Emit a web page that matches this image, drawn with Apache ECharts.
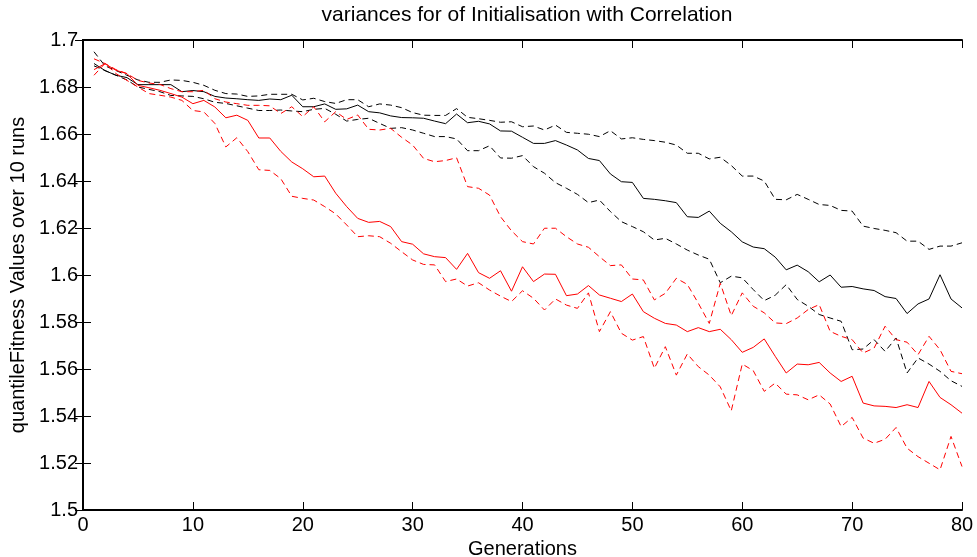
<!DOCTYPE html>
<html>
<head>
<meta charset="utf-8">
<script src="https://cdn.jsdelivr.net/npm/echarts@6/dist/echarts.min.js"></script>
<style>html,body{margin:0;padding:0;background:#fff}#c{width:977px;height:557px}</style>
</head>
<body>
<div id="c"></div>
<script>
const titleText = 'variances for of Initialisation with Correlation';
const xName = 'Generations';
const yName = 'quantileFitness Values over 10 runs';
const generations = [1,2,3,4,5,6,7,8,9,10,11,12,13,14,15,16,17,18,19,20,21,22,23,24,25,26,27,28,29,30,31,32,33,34,35,36,37,38,39,40,41,42,43,44,45,46,47,48,49,50,51,52,53,54,55,56,57,58,59,60,61,62,63,64,65,66,67,68,69,70,71,72,73,74,75,76,77,78,79,80];

const blackSolid = [1.690,1.687,1.685,1.684,1.681,1.681,1.681,1.681,1.678,1.6785,1.678,1.676,1.6753,1.675,1.6746,1.6743,1.6749,1.6746,1.6765,1.6716,1.6716,1.6728,1.6705,1.6707,1.6723,1.6695,1.669,1.6677,1.667,1.6669,1.6667,1.6655,1.6644,1.6685,1.6648,1.6654,1.6643,1.6613,1.6612,1.6586,1.656,1.656,1.6572,1.6553,1.6532,1.6496,1.6487,1.643,1.6397,1.6394,1.6326,1.6322,1.6316,1.6308,1.6248,1.6245,1.6272,1.622,1.6184,1.6141,1.6119,1.6112,1.6076,1.6022,1.6042,1.6014,1.5971,1.600,1.5948,1.5951,1.5941,1.5934,1.5908,1.590,1.5836,1.5877,1.5898,1.6001,1.5898,1.586];

const blackDashedUpper = [1.695,1.689,1.687,1.685,1.683,1.682,1.682,1.683,1.6828,1.682,1.6807,1.6786,1.6772,1.677,1.676,1.6762,1.6769,1.6769,1.6769,1.6745,1.6752,1.6738,1.673,1.6746,1.6746,1.6716,1.6728,1.6723,1.6712,1.6691,1.668,1.6679,1.6679,1.6708,1.6671,1.6665,1.6658,1.665,1.6652,1.6631,1.6634,1.6617,1.6638,1.6607,1.6603,1.6599,1.6589,1.6614,1.6579,1.6584,1.6577,1.6572,1.6565,1.6553,1.6518,1.6518,1.6494,1.6501,1.6466,1.6421,1.6421,1.640,1.6322,1.632,1.6343,1.6322,1.630,1.6296,1.6275,1.6272,1.6208,1.6198,1.619,1.618,1.6144,1.6144,1.6109,1.6123,1.6123,1.6137];

const blackDashedLower = [1.689,1.687,1.685,1.683,1.680,1.679,1.678,1.6764,1.6762,1.676,1.675,1.6735,1.673,1.672,1.671,1.670,1.670,1.6702,1.6698,1.6695,1.6705,1.6709,1.6684,1.6655,1.6662,1.6667,1.6645,1.6624,1.6627,1.6617,1.6603,1.6589,1.6589,1.6579,1.6529,1.6529,1.655,1.6498,1.6497,1.6508,1.6461,1.6433,1.6393,1.6369,1.6343,1.6308,1.6319,1.627,1.6227,1.6206,1.6184,1.6149,1.6156,1.6132,1.6106,1.6085,1.6067,1.5967,1.5995,1.5988,1.5938,1.5891,1.5914,1.5959,1.5896,1.5867,1.5832,1.5817,1.5803,1.5682,1.5685,1.5725,1.5675,1.5732,1.5583,1.5647,1.5621,1.559,1.555,1.5526];

const redSolid = [1.6874,1.6899,1.6871,1.6857,1.6807,1.6797,1.6786,1.6772,1.6757,1.6729,1.6743,1.6715,1.6669,1.668,1.6658,1.6583,1.6583,1.6526,1.6481,1.6452,1.6418,1.6421,1.6348,1.6291,1.6241,1.6224,1.6228,1.6206,1.6142,1.6131,1.609,1.6078,1.6074,1.6024,1.6092,1.601,1.5986,1.6018,1.5931,1.6035,1.5972,1.6004,1.6003,1.5912,1.5919,1.5955,1.5915,1.5901,1.5887,1.5919,1.5844,1.5816,1.5794,1.5787,1.5759,1.5776,1.5759,1.5769,1.5725,1.5671,1.5692,1.5728,1.5654,1.5583,1.5621,1.5618,1.5628,1.5583,1.5547,1.5569,1.5455,1.5443,1.5441,1.5436,1.5448,1.5436,1.5547,1.5479,1.5448,1.5412];

const redDashedUpper = [1.692,1.690,1.6874,1.6857,1.6828,1.6817,1.6811,1.6793,1.678,1.678,1.6786,1.675,1.6736,1.6729,1.6722,1.6722,1.672,1.6687,1.6716,1.6674,1.6716,1.6652,1.6695,1.6662,1.6681,1.662,1.6617,1.6624,1.6586,1.6553,1.6496,1.6482,1.6487,1.6499,1.6376,1.6369,1.634,1.6248,1.6188,1.6142,1.6132,1.6199,1.6199,1.6163,1.6132,1.6118,1.6078,1.604,1.6043,1.5983,1.5979,1.5894,1.5922,1.5986,1.596,1.588,1.5794,1.5965,1.5827,1.5924,1.5867,1.5839,1.5796,1.5793,1.5817,1.5853,1.5874,1.576,1.5739,1.5725,1.5668,1.5689,1.5782,1.5725,1.5714,1.5661,1.5739,1.5682,1.559,1.558];

const redDashedLower = [1.685,1.690,1.6857,1.6828,1.680,1.6772,1.6765,1.6757,1.6743,1.670,1.6694,1.6645,1.6545,1.6584,1.6525,1.6448,1.6445,1.641,1.6335,1.6326,1.6319,1.6291,1.626,1.6213,1.6163,1.6167,1.6163,1.6135,1.6099,1.6064,1.6045,1.6043,1.5972,1.5983,1.5953,1.5967,1.5936,1.591,1.5887,1.5933,1.5901,1.5851,1.5898,1.5872,1.5858,1.5924,1.5759,1.5844,1.5752,1.5723,1.5738,1.5603,1.5695,1.5574,1.5664,1.561,1.5574,1.5524,1.5422,1.5621,1.5593,1.5505,1.554,1.5493,1.549,1.5469,1.549,1.5451,1.5355,1.5394,1.5306,1.5284,1.5301,1.5351,1.5263,1.5227,1.5199,1.5171,1.5313,1.5185];

const FONT = '"Liberation Sans", Arial, sans-serif';
function pairs(vals){ return generations.map((g,i)=>[g, vals[i]]); }
function line(vals, color, dashed){
  return {
    type:'line', data: pairs(vals), showSymbol:false, symbol:'none', animation:false,
    lineStyle:{color:color, width:1, type: dashed ? [6,4] : 'solid'},
    silent:true
  };
}
const axisLine = {show:true, lineStyle:{color:'#000', width:2}};
const tick = {show:true, inside:true, length:8, lineStyle:{color:'#000', width:1}};

const chart = echarts.init(document.getElementById('c'), null, {renderer:'canvas'});
chart.setOption({
  backgroundColor:'#fff',
  animation:false,
  title:{text:titleText, left:522, top:0, textAlign:'center',
    textStyle:{fontFamily:FONT, fontSize:21, fontWeight:'normal', color:'#000'}},
  grid:{left:83, right:15, top:40, bottom:47, containLabel:false, outerBoundsMode:'none'},
  xAxis:[
    {type:'value', min:0, max:80, interval:10, position:'bottom',
     axisLine:axisLine, axisTick:tick, splitLine:{show:false},
     axisLabel:{color:'#000', fontFamily:FONT, fontSize:20, margin:5},
     name:xName, nameLocation:'middle', nameGap:24,
     nameTextStyle:{color:'#000', fontFamily:FONT, fontSize:20}},
    {type:'value', min:0, max:80, interval:10, position:'top',
     axisLine:axisLine, axisTick:tick, splitLine:{show:false}, axisLabel:{show:false}}
  ],
  yAxis:[
    {type:'value', min:1.5, max:1.7, interval:0.02, position:'left',
     axisLine:axisLine, axisTick:tick, splitLine:{show:false},
     axisLabel:{color:'#000', fontFamily:FONT, fontSize:20, margin:5},
     name:yName, nameLocation:'middle', nameGap:50, nameRotate:90,
     nameTextStyle:{color:'#000', fontFamily:FONT, fontSize:20}},
    {type:'value', min:1.5, max:1.7, interval:0.02, position:'right',
     axisLine:axisLine, axisTick:tick, splitLine:{show:false}, axisLabel:{show:false}}
  ],
  series:[
    line(blackDashedUpper,'#000',true),
    line(blackDashedLower,'#000',true),
    line(blackSolid,'#000',false),
    line(redDashedUpper,'#ff0000',true),
    line(redDashedLower,'#ff0000',true),
    line(redSolid,'#ff0000',false)
  ]
});
</script>
</body>
</html>
